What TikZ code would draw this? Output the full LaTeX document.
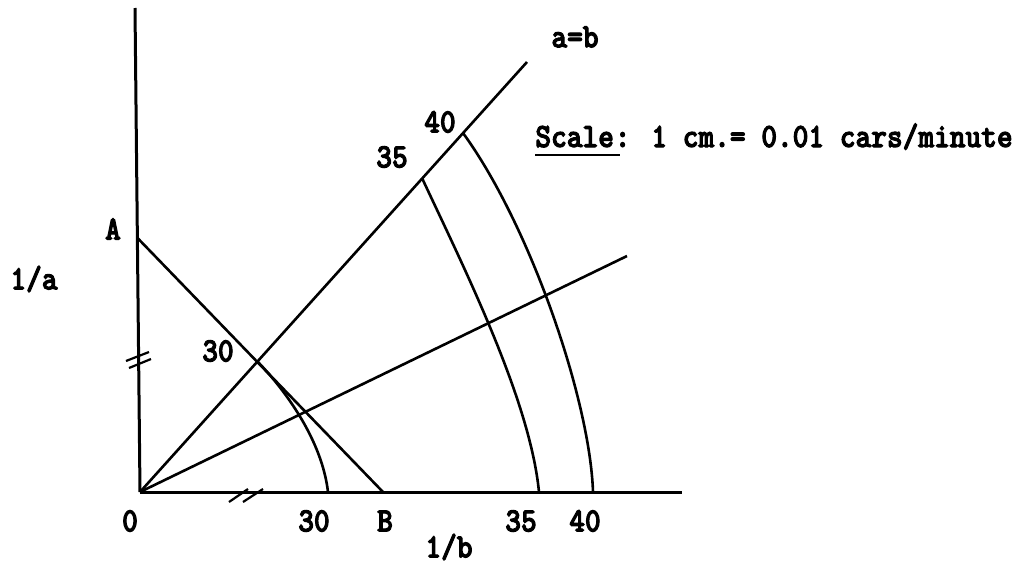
\documentclass[tikz,border=0pt]{standalone}
\usepackage{fontspec}
\newfontfamily\tw[Extension=.otf,FakeStretch=0.88,FakeBold=3]{lmmonolt10-bold}
\begin{document}
\begin{tikzpicture}[x=0.5pt,y=-0.5pt,
  ln/.style={line width=1.3pt},
  ax/.style={line width=1.5pt},
  brk/.style={line width=1.1pt},
  lbl/.style={inner sep=0pt,font=\fontsize{17}{19}\selectfont\tw}]
\useasboundingbox (0,0) rectangle (1028,568);
% key points
\coordinate (O) at (140,492);
\coordinate (Ytop) at (135,8);
\coordinate (Xend) at (682,492);
\coordinate (A) at (137.5,238);
\coordinate (B) at (383,492);
\coordinate (D) at (527,62);
\coordinate (L) at (627,256);
\coordinate (T30) at (258,362);
\coordinate (E30) at (328,492);
\coordinate (T35) at (422,178);
\coordinate (E35) at (539,492);
\coordinate (T40) at (463,133);
\coordinate (E40) at (593,492);
% axes
\draw[ax] (O) -- (Ytop);
\draw[ax] (O) -- (Xend);
% lines
\draw[ln] (A) -- (B);
\draw[ln] (O) -- (D);
\draw[ln] (O) -- (L);
% arcs
\draw[ln] (T30) .. controls (285,390) and (322,440) .. (E30);
\draw[ln] (T35) .. controls (465,270) and (530,400) .. (E35);
\draw[ln] (T40) .. controls (530,225) and (590,400) .. (E40);
% break marks
\draw[brk] (126,361) -- (149,352);
\draw[brk] (129,368) -- (151,359);
\draw[brk] (229,502) -- (248,489);
\draw[brk] (243,502) -- (263,489);
% labels
\node[lbl] (lab) at (575,37) {a=b};
\node[lbl] (l40t) at (440,122) {40};
\node[lbl] (l35t) at (392,157) {35};
\node[lbl] (lA) at (113,229) {A};
\node[lbl] (la) at (34,279) {1/a};
\node[lbl] (l30t) at (218,351) {30};
\node[lbl] (l0) at (130,521) {0};
\node[lbl] (l30b) at (314,521) {30};
\node[lbl] (lB) at (385,521) {B};
\node[lbl] (l35b) at (521,521) {35};
\node[lbl] (l40b) at (585,521) {40};
\node[lbl] (lb) at (449,547) {1/b};
\node[lbl,anchor=base west] (scale) at (535,147) {Scale};
\node[lbl,anchor=base west] (rest) at (scale.base east) {: 1 cm.= 0.01 cars/minute};
\draw[line width=1.3pt] ([yshift=-4pt]scale.base west) -- ([yshift=-4pt,xshift=3pt]scale.base east);
\end{tikzpicture}
\end{document}
